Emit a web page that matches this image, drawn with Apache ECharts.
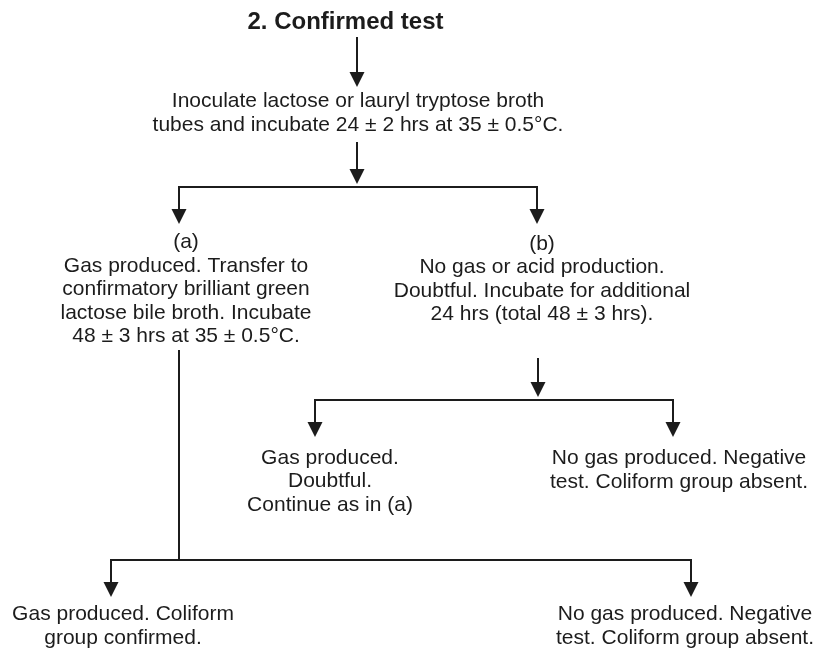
<!DOCTYPE html>
<html>
<head>
<meta charset="utf-8">
<script src="https://cdn.jsdelivr.net/npm/echarts@6/dist/echarts.min.js"></script>
<style>
html,body{margin:0;padding:0;background:#fff;}
#chart{width:818px;height:650px;}
</style>
</head>
<body>
<div id="chart"></div>
<script>
// ---- Data ----
const titleText = '2. Confirmed test';
const titlePos = [345.5, 22];

const nodeTexts = [
  'Inoculate lactose or lauryl tryptose broth\ntubes and incubate 24 ± 2 hrs at 35 ± 0.5°C.',
  '(a)\nGas produced. Transfer to\nconfirmatory brilliant green\nlactose bile broth. Incubate\n48 ± 3 hrs at 35 ± 0.5°C.',
  '(b)\nNo gas or acid production.\nDoubtful. Incubate for additional\n24 hrs (total 48 ± 3 hrs).',
  'Gas produced.\nDoubtful.\nContinue as in (a)',
  'No gas produced. Negative\ntest. Coliform group absent.',
  'Gas produced. Coliform\ngroup confirmed.',
  'No gas produced. Negative\ntest. Coliform group absent.'
];
const nodeX = [358, 186, 542, 330, 679, 123, 685];
const nodeY = [113, 289.5, 279, 481.5, 470, 626, 626];

// connectors with arrowheads: [x1, y1, x2(tip), y2(tip)]
const arrowSegments = [
  [357, 37, 357, 87],
  [357, 142, 357, 184],
  [179, 186.7, 179, 224],
  [537, 186.7, 537, 224],
  [538, 358, 538, 397],
  [315, 399.3, 315, 437],
  [673, 399.3, 673, 437],
  [111, 560, 111, 597],
  [691, 560, 691, 597]
];
// plain connector lines: [x1, y1, x2, y2]
const plainSegments = [
  [179, 186.7, 537, 186.7],
  [315, 399.3, 673, 399.3],
  [179, 351, 179, 560],
  [111, 560, 691, 560]
];

// ---- Chart ----
const ink = '#1c1c1c';
const arrowSize = 15;
const font = '"Liberation Sans", Arial, Helvetica, sans-serif';

function arrowData(seg) {
  const dx = seg[2] - seg[0], dy = seg[3] - seg[1];
  const len = Math.sqrt(dx * dx + dy * dy);
  const k = (len - arrowSize / 2) / len;
  return { coords: [[seg[0], seg[1]], [seg[0] + dx * k, seg[1] + dy * k]] };
}

const chart = echarts.init(document.getElementById('chart'), null, { renderer: 'canvas' });
chart.setOption({
  animation: false,
  backgroundColor: '#fff',
  grid: { left: 0, right: 0, top: 0, bottom: 0 },
  xAxis: { type: 'value', min: 0, max: 818, show: false },
  yAxis: { type: 'value', min: 0, max: 650, inverse: true, show: false },
  series: [
    {
      type: 'lines',
      coordinateSystem: 'cartesian2d',
      symbol: ['none', 'none'],
      lineStyle: { color: ink, width: 2, opacity: 1, cap: 'square' },
      data: plainSegments.map(s => ({ coords: [[s[0], s[1]], [s[2], s[3]]] })),
      silent: true
    },
    {
      type: 'lines',
      coordinateSystem: 'cartesian2d',
      symbol: ['none', 'triangle'],
      symbolSize: [arrowSize, arrowSize],
      lineStyle: { color: ink, width: 2, opacity: 1 },
      itemStyle: { color: ink, opacity: 1 },
      data: arrowSegments.map(arrowData),
      silent: true
    },
    {
      type: 'scatter',
      symbolSize: 0,
      silent: true,
      itemStyle: { opacity: 1, color: ink },
      data: nodeTexts.map((t, i) => ({ value: [nodeX[i], nodeY[i]], text: t })),
      label: {
        show: true,
        position: 'inside',
        formatter: p => p.data.text,
        fontFamily: font,
        fontSize: 21,
        lineHeight: 23.5,
        color: ink,
        opacity: 1,
        textBorderWidth: 0,
        align: 'center',
        verticalAlign: 'middle'
      }
    },
    {
      type: 'scatter',
      symbolSize: 0,
      silent: true,
      itemStyle: { opacity: 1, color: ink },
      data: [{ value: titlePos, text: titleText }],
      label: {
        show: true,
        position: 'inside',
        formatter: p => p.data.text,
        fontFamily: font,
        fontSize: 24,
        fontWeight: 'bold',
        color: ink,
        opacity: 1,
        textBorderWidth: 0,
        align: 'center',
        verticalAlign: 'middle'
      }
    }
  ]
});
</script>
</body>
</html>
